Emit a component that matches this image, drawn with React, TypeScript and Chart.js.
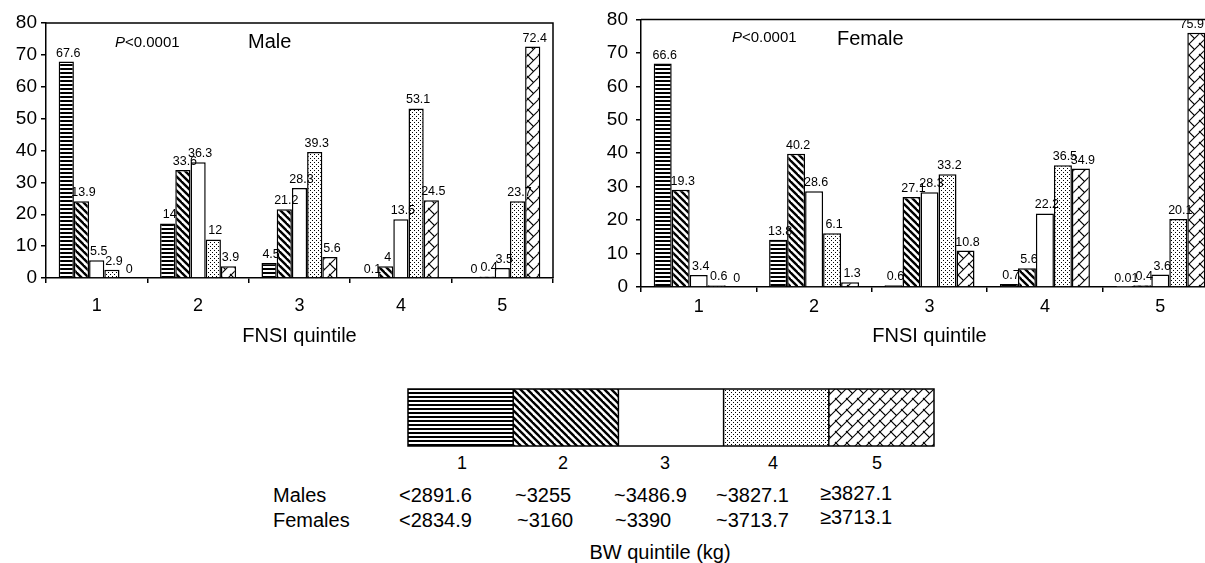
import React, { useEffect, useRef } from "react";
import { Chart, registerables } from "chart.js";

Chart.register(...registerables);

const FONT = "'Liberation Sans', Arial, Helvetica, sans-serif";

// FNSI quintile categories (x axis)
const fnsiCategories = ["1", "2", "3", "4", "5"];
// BW quintile series
const bwQuintiles = ["1", "2", "3", "4", "5"];

// Male bar heights (as drawn), one array per BW quintile
const maleBw1 = [67.9, 17.1, 4.7, 0.1, 0];
const maleBw2 = [24.1, 33.9, 21.6, 3.7, 0.5];
const maleBw3 = [5.6, 36.3, 28.2, 18.4, 3.1];
const maleBw4 = [2.6, 12.1, 39.5, 53.2, 24.1];
const maleBw5 = [0, 3.7, 6.6, 24.4, 72.6];
// Male printed labels
const maleLbl1 = ["67.6", "14", "4.5", "0.1", "0"];
const maleLbl2 = ["13.9", "33.6", "21.2", "4", "0.4"];
const maleLbl3 = ["5.5", "36.3", "28.3", "13.5", "3.5"];
const maleLbl4 = ["2.9", "12", "39.3", "53.1", "23.7"];
const maleLbl5 = ["0", "3.9", "5.6", "24.5", "72.4"];

// Female bar heights (as drawn)
const femaleBw1 = [66.8, 14.1, 0.5, 0.9, 0.01];
const femaleBw2 = [29.1, 39.8, 26.9, 5.6, 0.5];
const femaleBw3 = [3.6, 28.6, 28.3, 22.0, 3.7];
const femaleBw4 = [0.5, 16.1, 33.7, 36.4, 20.3];
const femaleBw5 = [0, 1.4, 10.9, 35.4, 76.0];
// Female printed labels
const femaleLbl1 = ["66.6", "13.8", "0.6", "0.7", "0.01"];
const femaleLbl2 = ["19.3", "40.2", "27.1", "5.6", "0.4"];
const femaleLbl3 = ["3.4", "28.6", "28.3", "22.2", "3.6"];
const femaleLbl4 = ["0.6", "6.1", "33.2", "36.5", "20.1"];
const femaleLbl5 = ["0", "1.3", "10.8", "34.9", "75.9"];

const yMin = 0;
const yMax = 80;
const yStep = 10;

const malesRow = ["<2891.6", "~3255", "~3486.9", "~3827.1", "\u22653827.1"];
const femalesRow = ["<2834.9", "~3160", "~3390", "~3713.7", "\u22653713.1"];

function makePattern(kind: number): CanvasPattern | string {
  if (kind === 2) return "#ffffff";
  const c = document.createElement("canvas");
  const x = c.getContext("2d")!;
  let s = 4;
  if (kind === 0) {
    s = 4;
    c.width = s; c.height = s;
    x.fillStyle = "#fff"; x.fillRect(0, 0, s, s);
    x.fillStyle = "#000"; x.fillRect(0, 0, s, 2);
  } else if (kind === 1) {
    s = 7;
    c.width = s; c.height = s;
    x.fillStyle = "#fff"; x.fillRect(0, 0, s, s);
    x.strokeStyle = "#000"; x.lineWidth = 2.4;
    for (let k = -1; k <= 1; k++) {
      x.beginPath(); x.moveTo(k * s - 1, -1); x.lineTo(k * s + s + 1, s + 1); x.stroke();
    }
  } else if (kind === 3) {
    s = 4;
    c.width = s; c.height = s;
    x.fillStyle = "#fff"; x.fillRect(0, 0, s, s);
    x.fillStyle = "#000";
    x.fillRect(0, 0, 1, 1);
    x.fillRect(2, 2, 1, 1);
  } else {
    s = 11;
    c.width = s; c.height = s;
    x.fillStyle = "#fff"; x.fillRect(0, 0, s, s);
    x.strokeStyle = "#000"; x.lineWidth = 1.1;
    for (let k = 0; k <= 2; k++) {
      x.beginPath(); x.moveTo(k * s + 1, -1); x.lineTo(k * s - s - 1, s + 1); x.stroke();
    }
    x.beginPath(); x.moveTo(-1, -1); x.lineTo(s / 2, s / 2); x.stroke();
    x.beginPath(); x.moveTo(s - 1, s - 1); x.lineTo(s + 1, s + 1); x.stroke();
  }
  return x.createPattern(c, "repeat")!;
}

type Note = { text: string; x: number; y: number; size: number; italicP?: boolean };

type PanelProps = {
  left: number;
  width: number;
  height: number;
  plotTop: number;
  plotBottom: number;
  plotRight: number;
  yPad: number;
  xPad: number;
  maxTextX: number;
  series: number[][];
  labels: string[][];
  notes: Note[];
  catPct: number;
};

function BarPanel(p: PanelProps) {
  const ref = useRef<HTMLCanvasElement | null>(null);
  useEffect(() => {
    if (!ref.current) return;
    const patterns = [0, 1, 2, 3, 4].map((k) => makePattern(k));
    const plugin = {
      id: "panelExtras",
      afterDatasetsDraw(chart: any) {
        const ctx = chart.ctx as CanvasRenderingContext2D;
        const a = chart.chartArea;
        ctx.save();
        ctx.font = `12.5px ${FONT}`;
        ctx.fillStyle = "#000";
        ctx.textAlign = "center";
        ctx.textBaseline = "alphabetic";
        chart.data.datasets.forEach((_: any, i: number) => {
          const meta = chart.getDatasetMeta(i);
          meta.data.forEach((bar: any, j: number) => {
            const t = p.labels[i][j];
            const w = ctx.measureText(t).width;
            const cx = Math.min(bar.x + 2, p.maxTextX - w / 2);
            ctx.fillText(t, cx, bar.y - 5);
          });
        });
        ctx.strokeStyle = "#000";
        ctx.lineWidth = 1.5;
        ctx.beginPath();
        ctx.moveTo(a.left, a.top);
        ctx.lineTo(a.right, a.top);
        ctx.lineTo(a.right, a.bottom);
        ctx.stroke();
        ctx.textAlign = "left";
        ctx.textBaseline = "middle";
        p.notes.forEach((n) => {
          if (n.italicP) {
            ctx.font = `italic ${n.size}px ${FONT}`;
            ctx.fillText("P", n.x, n.y);
            const w = ctx.measureText("P").width;
            ctx.font = `${n.size}px ${FONT}`;
            ctx.fillText(n.text, n.x + w, n.y);
          } else {
            ctx.font = `${n.size}px ${FONT}`;
            ctx.fillText(n.text, n.x, n.y);
          }
        });
        ctx.restore();
      },
    };
    const chart = new Chart(ref.current, {
      type: "bar",
      data: {
        labels: fnsiCategories,
        datasets: p.series.map((d, i) => ({
          label: bwQuintiles[i],
          data: d,
          backgroundColor: patterns[i] as any,
          borderColor: "#000",
          borderWidth: 1.5,
          borderSkipped: "start",
          barPercentage: 1,
          categoryPercentage: p.catPct,
        })),
      },
      options: {
        animation: false,
        responsive: false,
        maintainAspectRatio: false,
        layout: { padding: { top: p.plotTop, right: p.width - p.plotRight, bottom: 0, left: 0 } },
        plugins: { legend: { display: false }, tooltip: { enabled: false }, title: { display: false } },
        scales: {
          x: {
            type: "category",
            grid: { offset: true, drawOnChartArea: false, drawTicks: true, tickLength: 5, color: "#000", lineWidth: 1.5 },
            border: { color: "#000", width: 1.5 },
            ticks: { color: "#000", font: { family: FONT, size: 18 }, padding: p.xPad, maxRotation: 0 },
            title: {
              display: true,
              text: "FNSI quintile",
              color: "#000",
              font: { family: FONT, size: 20 },
              padding: { top: 0, bottom: 12 },
            },
            afterFit: (s: any) => { s.height = p.height - p.plotBottom; },
          },
          y: {
            min: yMin,
            max: yMax,
            grid: { drawOnChartArea: false, drawTicks: true, tickLength: 5, color: "#000", lineWidth: 1.5 },
            border: { color: "#000", width: 1.5 },
            ticks: { stepSize: yStep, color: "#000", font: { family: FONT, size: 19 }, padding: p.yPad },
            afterFit: (s: any) => { s.width = 46; },
          },
        },
      },
      plugins: [plugin],
    });
    return () => chart.destroy();
  }, []);
  return (
    <canvas
      ref={ref}
      width={p.width}
      height={p.height}
      style={{ position: "absolute", left: p.left, top: 0, width: p.width, height: p.height }}
    />
  );
}

function LegendBox() {
  const ref = useRef<HTMLCanvasElement | null>(null);
  useEffect(() => {
    const c = ref.current;
    if (!c) return;
    const ctx = c.getContext("2d")!;
    const w = c.width, h = c.height;
    const cw = (w - 2) / 5;
    bwQuintiles.forEach((_, i) => {
      ctx.fillStyle = makePattern(i) as any;
      ctx.fillRect(1 + i * cw, 1, cw, h - 2);
    });
    ctx.strokeStyle = "#000";
    ctx.lineWidth = 1.5;
    ctx.strokeRect(1, 1, w - 2, h - 2);
    for (let i = 1; i < 5; i++) {
      ctx.beginPath();
      ctx.moveTo(1 + i * cw, 1);
      ctx.lineTo(1 + i * cw, h - 1);
      ctx.stroke();
    }
  }, []);
  return <canvas ref={ref} width={528} height={59} style={{ position: "absolute", left: 407, top: 388 }} />;
}

function Txt(props: { t: string; x: number; y: number; size: number; center?: boolean }) {
  return (
    <div
      style={{
        position: "absolute",
        left: props.x,
        top: props.y - props.size * 0.49,
        fontSize: props.size,
        lineHeight: 1,
        whiteSpace: "nowrap",
        transform: props.center ? "translateX(-50%)" : undefined,
        color: "#000",
      }}
    >
      {props.t}
    </div>
  );
}

export default function App() {
  const legendNumX = [462, 563, 665, 773, 877];
  const colX = [399, 515, 614, 716, 820];
  const colX2 = [399, 517, 615, 716, 820];
  return (
    <div
      style={{
        position: "absolute",
        left: 0,
        top: 0,
        width: 1205,
        height: 563,
        overflow: "hidden",
        background: "#fff",
        fontFamily: FONT,
      }}
    >
      <BarPanel
        left={0}
        width={575}
        height={360}
        plotTop={23}
        plotBottom={278}
        plotRight={553}
        yPad={4}
        xPad={12}
        maxTextX={572}
        catPct={0.75}
        series={[maleBw1, maleBw2, maleBw3, maleBw4, maleBw5]}
        labels={[maleLbl1, maleLbl2, maleLbl3, maleLbl4, maleLbl5]}
        notes={[
          { text: "<0.0001", x: 115, y: 43, size: 15, italicP: true },
          { text: "Male", x: 248, y: 42, size: 20 },
        ]}
      />
      <BarPanel
        left={595}
        width={640}
        height={360}
        plotTop={18}
        plotBottom={287}
        plotRight={623}
        yPad={8}
        xPad={4}
        maxTextX={609}
        catPct={0.78}
        series={[femaleBw1, femaleBw2, femaleBw3, femaleBw4, femaleBw5]}
        labels={[femaleLbl1, femaleLbl2, femaleLbl3, femaleLbl4, femaleLbl5]}
        notes={[
          { text: "<0.0001", x: 137, y: 38, size: 15, italicP: true },
          { text: "Female", x: 242, y: 39, size: 20 },
        ]}
      />
      <LegendBox />
      {bwQuintiles.map((q, i) => (
        <Txt key={"n" + i} t={q} x={legendNumX[i]} y={463} size={18} center />
      ))}
      <Txt t="Males" x={273} y={495} size={20} />
      <Txt t="Females" x={273} y={520} size={20} />
      {malesRow.map((t, i) => (
        <Txt key={"m" + i} t={t} x={colX[i]} y={i === 4 ? 493 : 495} size={20} />
      ))}
      {femalesRow.map((t, i) => (
        <Txt key={"f" + i} t={t} x={colX2[i]} y={i === 4 ? 517 : 520} size={20} />
      ))}
      <Txt t="BW quintile (kg)" x={660} y={552} size={20} center />
    </div>
  );
}
